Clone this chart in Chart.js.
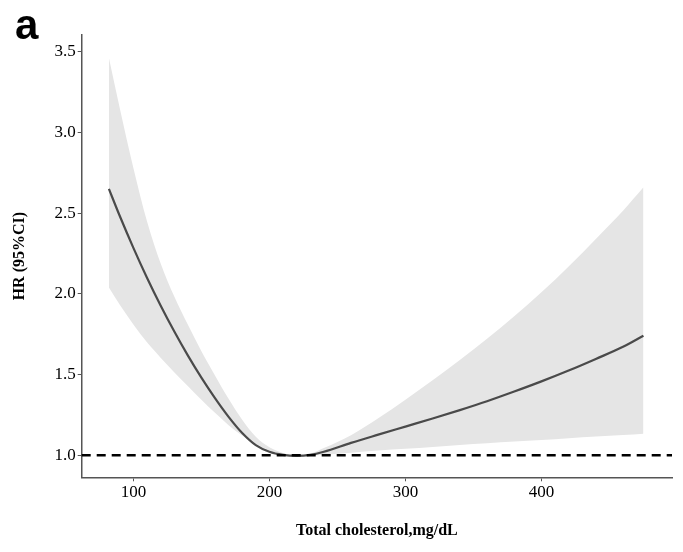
<!DOCTYPE html>
<html>
<head>
<meta charset="utf-8">
<script src="https://cdn.jsdelivr.net/npm/chart.js@4"></script>
<style>
    body { margin: 0; background: #fff; }
    #wrap { position: relative; width: 683px; height: 552px; }
    #panel { position: absolute; left: 15px; top: 1px; font: bold 42px "Liberation Sans", Arial, sans-serif; color: #000; }
</style>
</head>
<body>
<div id="wrap">
    <canvas id="chart" width="683" height="552"></canvas>
    <div id="panel">a</div>
</div>
<script>
// cholesterol values (mg/dL) where the curve was read
const chol = [82, 90, 100, 110, 120, 130, 140, 150, 160, 170, 180, 190, 200, 210, 220, 230, 240, 260, 280, 300, 320, 340, 360, 380, 400, 420, 440, 460, 475]
// hazard ratio and 95% CI
const hr = [2.65, 2.482, 2.285, 2.10, 1.928, 1.768, 1.619, 1.481, 1.354, 1.238, 1.138, 1.063, 1.022, 1.003, 0.997, 1.003, 1.022, 1.077, 1.128, 1.178, 1.228, 1.28, 1.335, 1.395, 1.458, 1.525, 1.597, 1.672, 1.741]
const upper = [3.46, 3.15, 2.78, 2.45, 2.19, 1.985, 1.81, 1.645, 1.495, 1.35, 1.22, 1.115, 1.05, 1.015, 1.0, 1.01, 1.045, 1.125, 1.23, 1.345, 1.465, 1.59, 1.722, 1.862, 2.01, 2.17, 2.34, 2.515, 2.66]
const lower = [2.04, 1.932, 1.81, 1.70, 1.605, 1.515, 1.43, 1.345, 1.263, 1.187, 1.123, 1.072, 1.03, 1.008, 1.0, 1.0, 1.004, 1.016, 1.03, 1.041, 1.052, 1.064, 1.075, 1.085, 1.095, 1.106, 1.116, 1.126, 1.134]

const xTicks = [100, 200, 300, 400]
const yTicks = [1.0, 1.5, 2.0, 2.5, 3.0, 3.5]
const refLine = 1.0

const toPts = ys => chol.map((c, i) => ({ x: c, y: ys[i] }))

// dashed reference line at HR = 1
const refPlugin = {
    id: 'refLine',
    afterDatasetsDraw(chart) {
        const ctx = chart.ctx
        const area = chart.chartArea
        const y = chart.scales.y.getPixelForValue(refLine)
        ctx.save()
        ctx.strokeStyle = '#000'
        ctx.lineWidth = 2.5
        ctx.setLineDash([9, 6])
        ctx.beginPath()
        ctx.moveTo(area.left, y)
        ctx.lineTo(area.right, y)
        ctx.stroke()
        ctx.restore()
    }
}

const tickFont = { family: '"Liberation Serif", "Times New Roman", serif', size: 17 }
const titleFont = { family: '"Liberation Serif", "Times New Roman", serif', size: 16, weight: 'bold' }

new Chart(document.getElementById('chart').getContext('2d'), {
    type: 'line',
    data: {
        datasets: [
            {
                label: 'upper',
                data: toPts(upper),
                order: 2,
                borderWidth: 0,
                pointRadius: 0,
                backgroundColor: '#e5e5e5',
                fill: '+1',
                cubicInterpolationMode: 'monotone'
            },
            {
                label: 'lower',
                data: toPts(lower),
                order: 2,
                borderWidth: 0,
                pointRadius: 0,
                fill: false,
                cubicInterpolationMode: 'monotone'
            },
            {
                label: 'HR',
                data: toPts(hr),
                order: 1,
                borderColor: '#4a4a4a',
                borderWidth: 2.2,
                pointRadius: 0,
                fill: false,
                cubicInterpolationMode: 'monotone'
            }
        ]
    },
    options: {
        responsive: false,
        animation: false,
        devicePixelRatio: 1,
        layout: { padding: { left: 0, right: 11, top: 35, bottom: 0 } },
        plugins: {
            legend: { display: false },
            tooltip: { enabled: false }
        },
        scales: {
            x: {
                type: 'linear',
                min: 62,
                max: 496,
                afterFit: s => { s.height = 74.7 },
                afterBuildTicks: s => { s.ticks = xTicks.map(v => ({ value: v })) },
                border: { display: true, color: '#555', width: 1.5 },
                grid: { display: true, drawOnChartArea: false, drawTicks: true, tickLength: 4, color: '#555' },
                ticks: { color: '#000', font: tickFont, padding: 1, maxRotation: 0 },
                title: {
                    display: true,
                    text: 'Total cholesterol,mg/dL',
                    color: '#000',
                    font: titleFont,
                    padding: { top: 0, bottom: 12 }
                }
            },
            y: {
                type: 'linear',
                min: 0.864,
                max: 3.603,
                afterFit: s => { s.width = 81.7 },
                afterBuildTicks: s => { s.ticks = yTicks.map(v => ({ value: v })) },
                border: { display: true, color: '#555', width: 1.5 },
                grid: { display: true, drawOnChartArea: false, drawTicks: true, tickLength: 4, color: '#555' },
                ticks: {
                    color: '#000',
                    font: tickFont,
                    padding: 2,
                    callback: v => Number(v).toFixed(1)
                },
                title: {
                    display: true,
                    text: 'HR (95%CI)',
                    color: '#000',
                    font: titleFont,
                    padding: { top: 10, bottom: 0 }
                }
            }
        }
    },
    plugins: [refPlugin]
})
</script>
</body>
</html>
